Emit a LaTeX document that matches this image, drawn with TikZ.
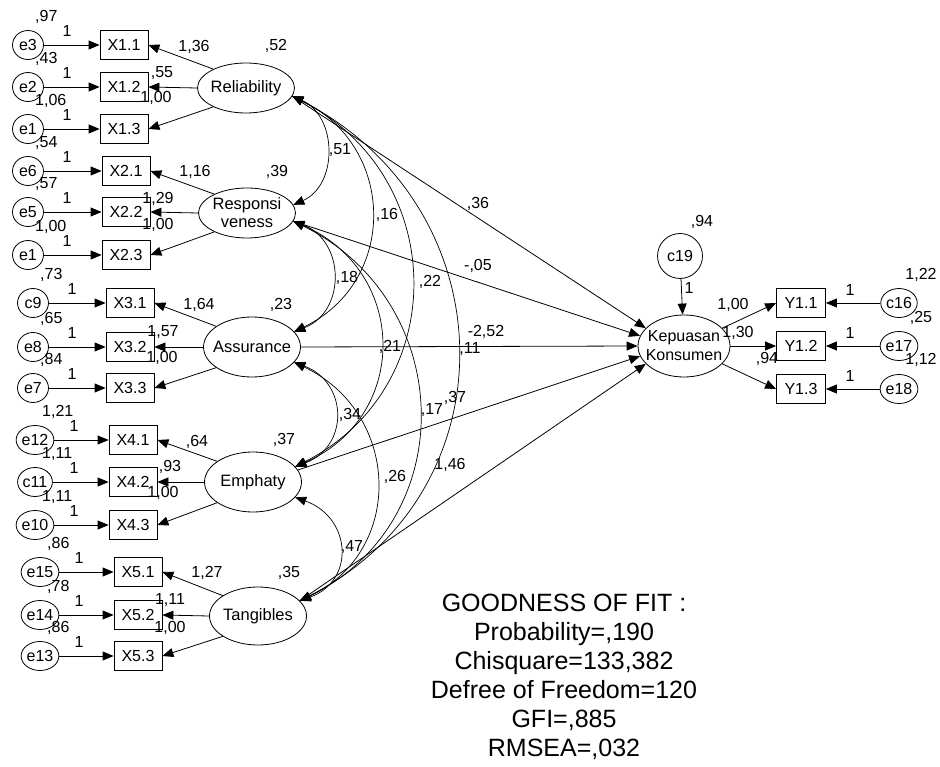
\documentclass[tikz,border=0pt]{standalone}
\usepackage{fontspec}
\setmainfont{Liberation Sans}
\usetikzlibrary{arrows.meta,shapes.geometric}
\begin{document}
\begin{tikzpicture}[x=1pt,y=-1pt,
  every node/.style={inner sep=0pt},
  lat/.style={draw,ellipse,minimum width=97pt,minimum height=50pt,inner xsep=-14pt,font=\fontsize{16.5}{18}\selectfont,align=center,line width=0.8pt},
  obs/.style={draw,rectangle,minimum width=48pt,minimum height=29pt,font=\fontsize{16}{16}\selectfont,line width=0.8pt},
  err/.style={draw,ellipse,minimum width=31pt,minimum height=29pt,font=\fontsize{16}{16}\selectfont,line width=0.8pt},
  lbl/.style={font=\fontsize{16}{16}\selectfont},
  arr/.style={-{Triangle[length=11pt,width=9pt]},line width=0.8pt},
  cov/.style={{Triangle[length=11pt,width=9pt]}-{Triangle[length=11pt,width=9pt]},line width=0.7pt},
]
\useasboundingbox (0,0) rectangle (940,767);

% latent variables
\node[lat] (rel)  at (246,88)  {Reliability};
\node[lat] (resp) at (247,213) {Responsi\\veness};
\node[lat,minimum height=60pt] (ass)  at (252,347) {Assurance};
\node[lat,minimum height=60pt] (emp)  at (253,482) {Emphaty};
\node[lat,minimum height=58pt] (tang) at (258,616) {Tangibles};
\node[lat,minimum width=92pt,minimum height=62pt,font=\fontsize{16}{19}\selectfont] (kep) at (684,346) {Kepuasan\\Konsumen};

% latent variances
\node[lbl] (vrel)  at (276,46)  {,52};
\node[lbl] (vresp) at (277,172) {,39};
\node[lbl] (vass)  at (281,305) {,23};
\node[lbl] (vemp)  at (284,440) {,37};
\node[lbl] (vtang) at (289,573) {,35};

% indicators with error terms
\foreach \id/\txt/\bx/\ex/\yy/\etxt/\vv in {
  X11/X1.1/124/28/45/e3/{,97},
  X12/X1.2/124/28/87/e2/{,43},
  X13/X1.3/124/28/129/e1/{1,06},
  X21/X2.1/126/28/171/e6/{,54},
  X22/X2.2/126/28/212/e5/{,57},
  X23/X2.3/126/28/255/e1/{1,00},
  X31/X3.1/130/33/303/c9/{,73},
  X32/X3.2/130/33/347/e8/{,65},
  X33/X3.3/130/33/388/e7/{,84},
  X41/X4.1/133/35/440/e12/{1,21},
  X42/X4.2/133/35/482/c11/{1,11},
  X43/X4.3/133/35/525/e10/{1,11},
  X51/X5.1/138/40/572/e15/{,86},
  X52/X5.2/138/40/615/e14/{,78},
  X53/X5.3/138/40/656/e13/{,86}}{
  \node[obs] (\id) at (\bx,\yy) {\txt};
  \node[err] (e\id) at (\ex,\yy) {\etxt};
  \draw[arr] (e\id) -- (\id);
  \node[lbl,anchor=west] (v\id) at (\ex+7,\yy-28) {\vv};
  \node[lbl] (o\id) at (\ex+39,\yy-14) {1};
}

% loadings
\draw[arr] (rel.150) -- (X11.east);
\draw[arr] (rel.west) -- (X12.east);
\draw[arr] (rel.210) -- (X13.east);
\draw[arr] (resp.150) -- (X21.east);
\draw[arr] (resp.west) -- (X22.east);
\draw[arr] (resp.210) -- (X23.east);
\draw[arr] (ass.150) -- (X31.east);
\draw[arr] (ass.west) -- (X32.east);
\draw[arr] (ass.210) -- (X33.east);
\draw[arr] (emp.150) -- (X41.east);
\draw[arr] (emp.west) -- (X42.east);
\draw[arr] (emp.210) -- (X43.east);
\draw[arr] (tang.150) -- (X51.east);
\draw[arr] (tang.west) -- (X52.east);
\draw[arr] (tang.210) -- (X53.east);

\node[lbl] (l11) at (194,47)  {1,36};
\node[lbl] (l12) at (162,73)  {,55};
\node[lbl] (l13) at (156,98)  {1,00};
\node[lbl] (l21) at (195,172) {1,16};
\node[lbl] (l22) at (158,199) {1,29};
\node[lbl] (l23) at (158,225) {1,00};
\node[lbl] (l31) at (199,305) {1,64};
\node[lbl] (l32) at (163,332) {1,57};
\node[lbl] (l33) at (162,358) {1,00};
\node[lbl] (l41) at (197,442) {,64};
\node[lbl] (l42) at (170,467) {,93};
\node[lbl] (l43) at (163,493) {1,00};
\node[lbl] (l51) at (207,573) {1,27};
\node[lbl] (l52) at (170,600) {1,11};
\node[lbl] (l53) at (170,628) {1,00};

% covariances
\draw[cov] (rel.-10) .. controls +(45,20) and +(45,-20) .. (resp.10);
\draw[cov] (rel.-10) .. controls +(104,50) and +(104,-50) .. (ass.20);
\draw[cov] (rel.-10) .. controls +(157,80) and +(157,-80) .. (emp.20);
\draw[cov] (rel.-10) .. controls +(215,110) and +(215,-110) .. (tang.20);
\draw[cov] (resp.-10) .. controls +(52,20) and +(52,-20) .. (ass.20);
\draw[cov] (resp.-10) .. controls +(115,50) and +(115,-50) .. (emp.20);
\draw[cov] (resp.-10) .. controls +(163,80) and +(163,-80) .. (tang.20);
\draw[cov] (ass.-20) .. controls +(54,20) and +(54,-20) .. (emp.20);
\draw[cov] (ass.-20) .. controls +(106,50) and +(106,-50) .. (tang.20);
\draw[cov] (emp.-20) .. controls +(56,20) and +(56,-20) .. (tang.20);

% structural paths
\draw[arr] (rel.-10) -- (kep.155);
\draw[arr] (resp.-10) -- (kep.167);
\draw[arr] (ass.east) -- (kep.west);
\draw[arr] (emp.15) -- (kep.193);
\draw[arr] (tang.20) -- (kep.205);

% middle labels
\node[lbl] (c1) at (340,150) {,51};
\node[lbl] (c2) at (387,215) {,16};
\node[lbl] (c3) at (430,282) {,22};
\node[lbl] (c4) at (347,278) {,18};
\node[lbl] (c5) at (390,347) {,21};
\node[lbl] (c6) at (470,349) {,11};
\node[lbl] (c7) at (350,415) {,34};
\node[lbl] (c8) at (432,410) {,17};
\node[lbl] (c9) at (455,398) {,37};
\node[lbl] (c10) at (395,477) {,26};
\node[lbl] (c11) at (450,465) {1,46};
\node[lbl] (c12) at (352,547) {,47};
\node[lbl] (p1) at (478,204) {,36};
\node[lbl] (p2) at (478,266) {-,05};
\node[lbl] (p3) at (486,332) {-2,52};

% Kepuasan side
\node[err,minimum width=45pt,minimum height=45pt] (e19) at (680,256) {c19};
\node[lbl] (ve19) at (702,222) {,94};
\draw[arr] (e19) -- (kep);
\node[lbl] (oe19) at (689,288) {1};

\foreach \id/\txt/\yy/\etxt/\vv/\vy in {
  Y11/Y1.1/303/c16/{1,22}/275,
  Y12/Y1.2/346/e17/{,25}/318,
  Y13/Y1.3/389/e18/{1,12}/360}{
  \node[obs,minimum width=49pt] (\id) at (801,\yy) {\txt};
  \node[err] (e\id) at (899,\yy) {\etxt};
  \draw[arr] (e\id) -- (\id);
  \node[lbl] (o\id) at (850,\yy-13) {1};
  \node[lbl] (v\id) at (921,\vy) {\vv};
}
\draw[arr] (kep.25) -- (Y11.west);
\draw[arr] (kep.east) -- (Y12.west);
\draw[arr] (kep.-25) -- (Y13.west);
\node[lbl] (k1) at (733,305) {1,00};
\node[lbl] (k2) at (738,333) {1,30};
\node[lbl] (k3) at (767,359) {,94};

% goodness of fit
\node[font=\fontsize{25}{29}\selectfont,align=center] (gof) at (564,677)
  {GOODNESS OF FIT :\\Probability=,190\\Chisquare=133,382\\Defree of Freedom=120\\GFI=,885\\RMSEA=,032};
\end{tikzpicture}
\end{document}
